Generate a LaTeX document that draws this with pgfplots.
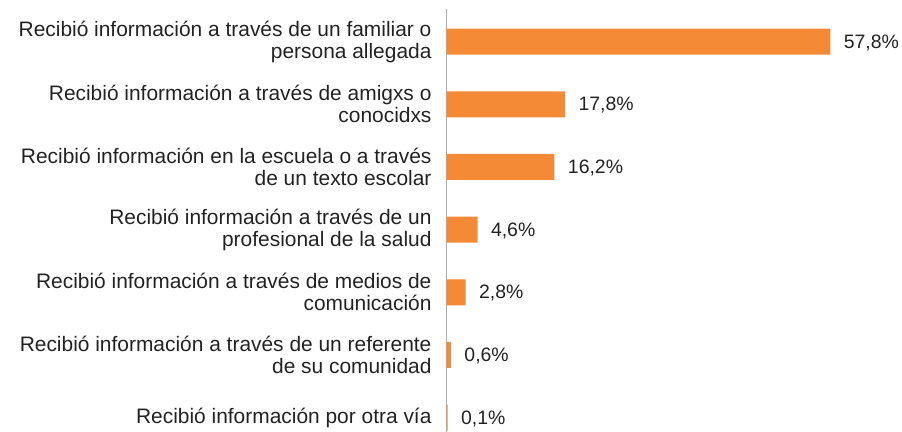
\documentclass[border=0pt]{standalone}
\usepackage{fontspec}
\setmainfont{Liberation Sans}
\usepackage{pgfplots}
\pgfplotsset{compat=1.18}
\definecolor{barorange}{RGB}{244,137,54}
\definecolor{txt}{RGB}{34,34,34}
\definecolor{axisgray}{RGB}{170,170,170}

\begin{document}
\begin{tikzpicture}
\begin{axis}[
  scale only axis,
  width=451bp, height=423bp,
  xbar, bar width=0.415,
  xmin=0, xmax=68,
  ymin=-0.52, ymax=6.23,
  y dir=reverse,
  axis x line=none,
  axis y line*=left,
  y axis line style={axisgray, line width=1pt},
  ytick={0,...,6},
  major tick length=0pt,
  yticklabels={
    {Recibió información a través de un familiar o\\persona allegada},
    {Recibió información a través de amigxs o\\conocidxs},
    {Recibió información en la escuela o a través\\de un texto escolar},
    {Recibió información a través de un\\profesional de la salud},
    {Recibió información a través de medios de\\comunicación},
    {Recibió información a través de un referente\\de su comunidad},
    {Recibió información por otra vía}},
  yticklabel style={align=right, font=\fontsize{21}{22}\selectfont, text=txt, xshift=-12bp},
  nodes near coords={\pgfmathprintnumber[use comma,fixed,precision=1,fixed zerofill]{\pgfplotspointmeta}\%},
  nodes near coords style={font=\fontsize{19.5}{22}\selectfont, text=txt, anchor=west, xshift=10bp, yshift=-1bp},
  /pgf/number format/assume math mode=true,
  point meta=explicit,
]
\addplot[fill=barorange, draw=none] coordinates {
  (57.8,0) [57.8]
  (17.8,1) [17.8]
  (16.2,2) [16.2]
  (4.6,3) [4.6]
  (2.8,4) [2.8]
  (0.6,5) [0.6]
  (0.1,6) [0.1]
};
\end{axis}
\pgfresetboundingbox
\path (current axis.south west) ++(-447bp,0) rectangle ++(902bp,432bp);
\end{tikzpicture}
\end{document}
